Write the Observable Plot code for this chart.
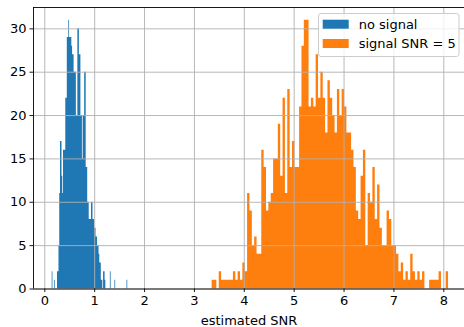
<!DOCTYPE html>
<html><head><meta charset="utf-8">
<script src="https://cdn.jsdelivr.net/npm/d3@7"></script>
<script src="https://cdn.jsdelivr.net/npm/@observablehq/plot@0.6"></script>
<style>html,body{margin:0;padding:0;background:#fff}svg{display:block}</style>
</head><body><div id="chart"></div>
<script>
const seriesNames = ["no signal", "signal SNR = 5"];
const seriesColors = ["#1f77b4", "#ff7f0e"];

const noSignalStart = 0.148;
const noSignalWidth = 0.01515;
const noSignalCounts = [
  2,0,0,1,0,0,0,2,2,5,
  11,17,17,13,11,16,16,16,22,22,
  29,29,31,29,29,29,28,27,27,25,
  25,25,20,20,30,30,27,27,20,20,
  15,20,20,25,25,14,14,10,10,8,
  8,8,10,10,8,8,7,7,6,6,
  5,5,4,3,3,1,1,0,2,2,
  1,0,0,0,0,0,0,2,0,0,
  0,0,0,1,0,0,0,0,0,0,
  0,0,0,0,0,0,0,0,0,1
];

const signalStart = 3.355;
const signalWidth = 0.0474;
const signalCounts = [
  1,1,0,2,1,1,1,1,1,2,
  1,2,1,3,2,11,9,5,6,4,
  4,16,14,9,10,11,15,15,19,13,
  22,11,23,14,17,14,14,21,28,31,
  31,21,22,21,27,22,25,22,18,24,
  22,20,18,23,20,23,21,18,18,16,
  14,9,8,13,16,5,11,10,14,8,
  12,7,5,5,9,8,5,5,4,2,
  3,1,2,1,4,2,1,2,1,2,
  0,0,1,1,1,1,2,0,0,2
];

const xTicks = [0, 1, 2, 3, 4, 5, 6, 7, 8];
const yTicks = [0, 5, 10, 15, 20, 25, 30];
const xLabel = "estimated SNR";

// step outline of each histogram: one point per bin left edge plus the final right edge
function toSteps(start, width, counts, series) {
  const pts = counts.map((c, i) => ({series, x: start + i * width, count: c}));
  pts.push({series, x: start + counts.length * width, count: counts[counts.length - 1]});
  return pts;
}
const steps = [
  ...toSteps(noSignalStart, noSignalWidth, noSignalCounts, seriesNames[0]),
  ...toSteps(signalStart, signalWidth, signalCounts, seriesNames[1])
];

const xDomain = [-0.2266, 8.415];
const yDomain = [0, 32.46];
const font = "DejaVu Sans";

const svg = Plot.plot({
  width: 464,
  height: 327,
  marginLeft: 33,
  marginRight: 0,
  marginTop: 7,
  marginBottom: 38.5,
  style: {fontFamily: font, fontSize: "13px", background: "#fff", color: "#000"},
  x: {domain: xDomain},
  y: {domain: yDomain},
  color: {domain: seriesNames, range: seriesColors},
  marks: [
    Plot.areaY(steps, {x: "x", y: "count", z: "series", fill: "series", curve: "step-after"}),
    Plot.gridX(xTicks, {stroke: "#b0b0b0", strokeOpacity: 1, strokeWidth: 0.9}),
    Plot.gridY(yTicks, {stroke: "#b0b0b0", strokeOpacity: 1, strokeWidth: 0.9}),
    Plot.ruleY([yDomain[0]], {stroke: "#000", strokeWidth: 0.9}),
    Plot.ruleY([yDomain[1]], {stroke: "#000", strokeWidth: 0.9}),
    Plot.ruleX([xDomain[0]], {stroke: "#000", strokeWidth: 0.9}),
    Plot.axisX(xTicks, {tickSize: 3.5, tickPadding: 3.5, fontSize: 13, label: null, strokeWidth: 0.9}),
    Plot.axisY(yTicks, {tickSize: 3.5, tickPadding: 3.5, fontSize: 13, label: null, strokeWidth: 0.9}),
    Plot.text([xLabel], {frameAnchor: "bottom", dy: 31.5, lineAnchor: "middle", fontSize: 13, fill: "#000"})
  ]
});

// legend (upper right, matplotlib style)
const g = d3.select(svg).append("g").attr("font-family", font).attr("font-size", 13).attr("text-anchor", "start");
g.append("rect").attr("x", 318.5).attr("y", 13.5).attr("width", 140.5).attr("height", 43)
  .attr("rx", 2.5).attr("fill", "#fff").attr("fill-opacity", 0.8)
  .attr("stroke", "#cccccc").attr("stroke-width", 1);
const entryY = [24.2, 43.5];
seriesNames.forEach((name, i) => {
  g.append("rect").attr("x", 322.7).attr("y", entryY[i] - 4.5).attr("width", 26).attr("height", 9)
    .attr("fill", seriesColors[i]);
  g.append("text").attr("x", 358.7).attr("y", entryY[i]).attr("dy", "0.35em")
    .attr("text-anchor", "start").attr("fill", "#000").text(name);
});

document.getElementById("chart").appendChild(svg);
</script>
</body></html>
